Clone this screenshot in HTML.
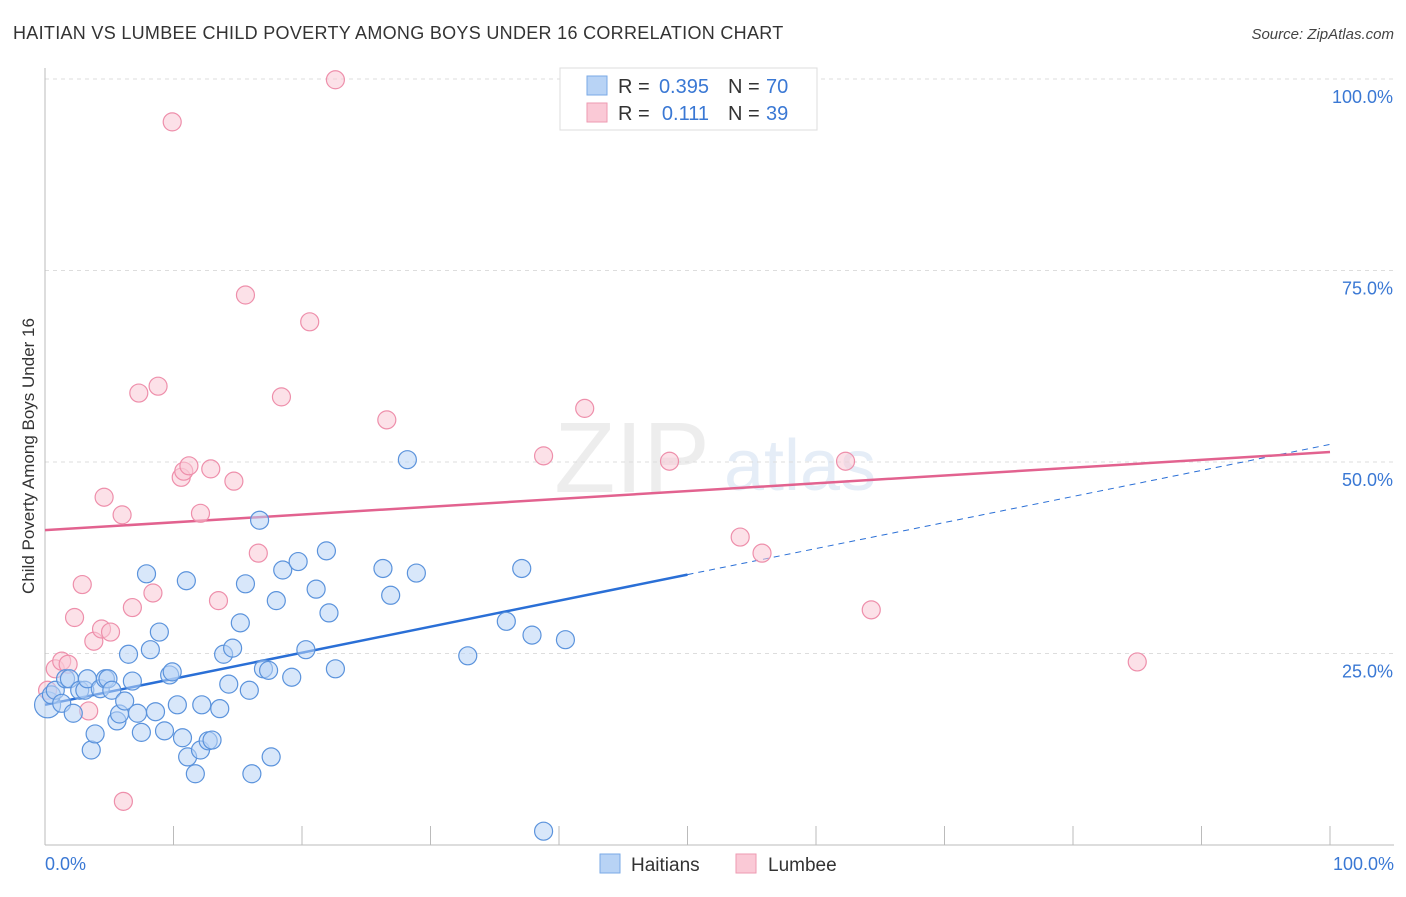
<!DOCTYPE html>
<html><head><meta charset="utf-8">
<style>
body{margin:0;background:#fff;font-family:"Liberation Sans",sans-serif;}
svg text{font-family:"Liberation Sans",sans-serif;}
</style></head><body>
<svg id="chart" width="1406" height="892" xmlns="http://www.w3.org/2000/svg">
<text x="13" y="39" font-size="18" letter-spacing="0.3" fill="#333">HAITIAN VS LUMBEE CHILD POVERTY AMONG BOYS UNDER 16 CORRELATION CHART</text>
<text x="1394" y="39" font-size="15" fill="#444" text-anchor="end" font-style="italic">Source: ZipAtlas.com</text>
<text transform="translate(34,456) rotate(-90)" font-size="17" fill="#333" text-anchor="middle">Child Poverty Among Boys Under 16</text>
<g opacity="0.25">
<text x="632" y="492" font-size="100" font-family="Liberation Serif" fill="#bbb" text-anchor="middle">ZIP</text>
<text x="800" y="490" font-size="72" fill="#9bbbe0" text-anchor="middle">atlas</text>
</g>
<g id="grid"></g><g id="axes"></g><g id="trend"></g><g id="pts"></g>
<g>
<rect x="560" y="68" width="257" height="62" fill="#fff" stroke="#ddd"/>
<rect x="587" y="76" width="20" height="19" fill="#b8d3f5" stroke="#7aa9e6"/>
<text x="618" y="93" font-size="20" fill="#333">R =</text>
<text x="709" y="93" font-size="20" fill="#3a78d4" text-anchor="end">0.395</text>
<text x="728" y="93" font-size="20" fill="#333">N =</text>
<text x="766" y="93" font-size="20" fill="#3a78d4">70</text>
<rect x="587" y="103" width="20" height="19" fill="#fac9d6" stroke="#ee9ab2"/>
<text x="618" y="120" font-size="20" fill="#333">R =</text>
<text x="709" y="120" font-size="20" fill="#3a78d4" text-anchor="end">0.111</text>
<text x="728" y="120" font-size="20" fill="#333">N =</text>
<text x="766" y="120" font-size="20" fill="#3a78d4">39</text>
</g>
<g>
<rect x="600" y="854" width="20" height="19" fill="#b8d3f5" stroke="#7aa9e6"/>
<text x="631" y="871" font-size="19" fill="#333">Haitians</text>
<rect x="736" y="854" width="20" height="19" fill="#fac9d6" stroke="#ee9ab2"/>
<text x="768" y="871" font-size="19" fill="#333">Lumbee</text>
</g>
</svg>
<script>
const yTicks=[25,50,75,100];
const yTickLabels=["25.0%","50.0%","75.0%","100.0%"];
const xLabels=["0.0%","100.0%"];
const haitiansX=[0.2,0.5,0.8,1.3,1.6,1.9,2.2,2.7,3.1,3.3,3.6,3.9,4.3,4.7,4.9,5.2,5.6,5.8,6.2,6.5,6.8,7.2,7.5,7.9,8.2,8.6,8.9,9.3,9.7,9.9,10.3,10.7,11,11.1,11.7,12.1,12.2,12.7,13,13.6,13.9,14.3,14.6,15.2,15.6,15.9,16.1,16.7,17.0,17.4,17.6,18,18.5,19.2,19.7,20.3,21.1,21.9,22.1,22.6,26.3,26.9,28.2,28.9,32.9,35.9,37.1,37.9,38.8,40.5];
const haitiansY=[18.3,19.6,20.2,18.5,21.7,21.7,17.2,20.2,20.2,21.7,12.4,14.5,20.4,21.7,21.7,20.2,16.2,17.1,18.8,24.9,21.4,17.2,14.7,35.4,25.5,17.4,27.8,14.9,22.2,22.6,18.3,14.0,34.5,11.5,9.3,12.4,18.3,13.6,13.7,17.8,24.9,21.0,25.7,29.0,34.1,20.2,9.3,42.4,23.0,22.8,11.5,31.9,35.9,21.9,37.0,25.5,33.4,38.4,30.3,23.0,36.1,32.6,50.3,35.5,24.7,29.2,36.1,27.4,1.8,26.8];
const lumbeeX=[0.2,0.8,1.3,1.8,2.3,2.9,3.4,3.8,4.4,4.6,5.1,6,6.1,6.8,7.3,8.4,8.8,9.9,10.6,10.8,11.2,12.1,12.9,13.5,14.7,15.6,16.6,18.4,20.6,22.6,26.6,38.8,42,48.6,54.1,55.8,62.3,64.3,85]; 
const lumbeeY=[20.2,23.0,24.0,23.6,29.7,34.0,17.5,26.6,28.2,45.4,27.8,43.1,5.7,31.0,59.0,32.9,59.9,94.4,48.0,48.8,49.5,43.3,49.1,31.9,47.5,71.8,38.1,58.5,68.3,99.9,55.5,50.8,57.0,50.1,40.2,38.1,50.1,30.7,23.9];
const trendBlue=[18.3,52.3], trendPink=[41.1,51.3];
const NS="http://www.w3.org/2000/svg";
const X=v=>45+v/100*1285, Y=v=>845-v/100*766;
function mk(t,a,p){const e=document.createElementNS(NS,t);for(const k in a)e.setAttribute(k,a[k]);p.appendChild(e);return e;}
const grid=document.getElementById('grid'),axes=document.getElementById('axes'),trend=document.getElementById('trend'),pts=document.getElementById('pts');
yTicks.forEach((t,i)=>{
 const l=mk('line',{x1:45,x2:1394,y1:Y(t),y2:Y(t),stroke:'#ddd','stroke-dasharray':'4,4'},grid);
 
 
 const tx=mk('text',{x:1393,y:Y(t)+24,'font-size':18,fill:'#3a78d4','text-anchor':'end'},axes);
 
 
 tx.textContent=yTickLabels[i];
});
const ax=mk('line',{x1:45,x2:45,y1:68,y2:845,stroke:'#bbb'},axes);


const bx=mk('line',{x1:45,x2:1394,y1:845,y2:845,stroke:'#bbb'},axes);


for(let i=0;i<=10;i++){const t=mk('line',{x1:X(i*10),x2:X(i*10),y1:826,y2:845,stroke:'#bbb'},axes);
 
 }
[[0,'start',45],[100,'end',1394]].forEach((d,i)=>{const t=mk('text',{x:d[2],y:870,'font-size':18,fill:'#3a78d4','text-anchor':d[1]},axes);
 
 
 t.textContent=xLabels[i];});
function pointsFor(xs,ys,fill,stroke,name){xs.forEach((x,i)=>{const c=mk('circle',{cx:X(x),cy:Y(ys[i]),r:i===0&&name==='haitian-point'?13:9,fill:fill,'fill-opacity':0.55,stroke:stroke,'stroke-width':1.2},pts);
 
 });}
pointsFor(lumbeeX,lumbeeY,'#fac9d6','#ee8fab','lumbee-point');
pointsFor(haitiansX,haitiansY,'#b8d3f5','#5b93dc','haitian-point');
const bEnd=50, yAt=v=>trendBlue[0]+(trendBlue[1]-trendBlue[0])*v/100;
const l1=mk('line',{x1:X(0),y1:Y(yAt(0)),x2:X(bEnd),y2:Y(yAt(bEnd)),stroke:'#2a6fd6','stroke-width':2.5},trend);


const l2=mk('line',{x1:X(bEnd),y1:Y(yAt(bEnd)),x2:X(100),y2:Y(yAt(100)),stroke:'#2a6fd6','stroke-width':1,'stroke-dasharray':'6,5'},trend);


const l3=mk('line',{x1:X(0),y1:Y(trendPink[0]),x2:X(100),y2:Y(trendPink[1]),stroke:'#e2628f','stroke-width':2.5},trend);


</script>
</body></html>
